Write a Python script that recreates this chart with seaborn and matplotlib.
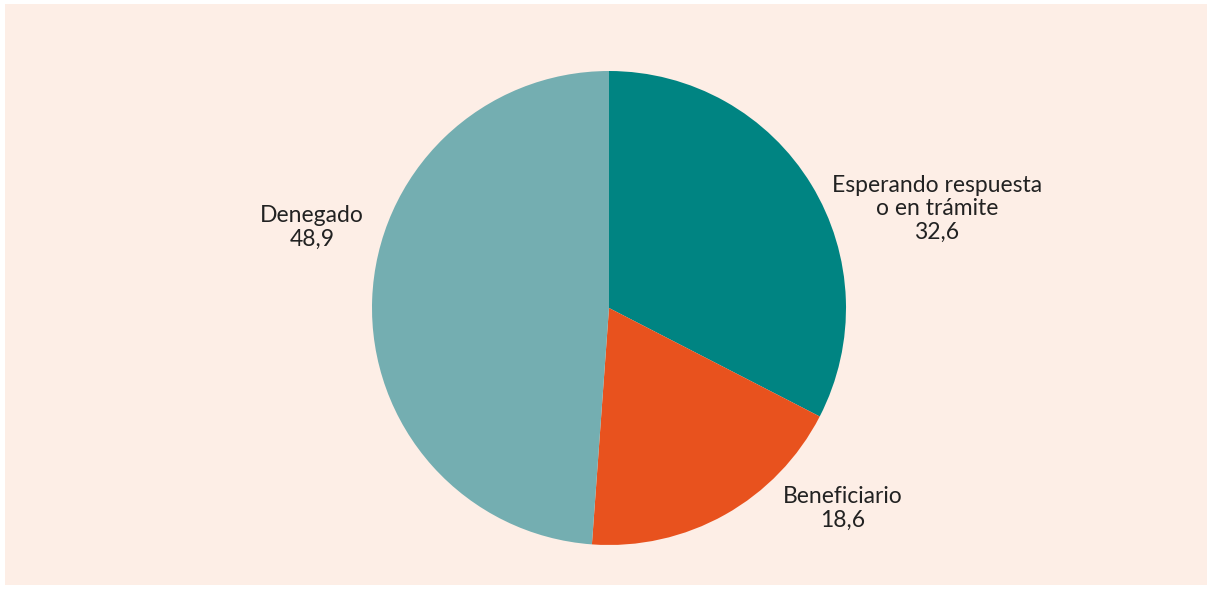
import matplotlib
matplotlib.use("Agg")
import matplotlib.pyplot as plt
import seaborn as sns
from matplotlib.patches import Rectangle

# data
categories = ["Esperando respuesta\no en trámite", "Beneficiario", "Denegado"]
values = [32.6, 18.6, 48.9]
value_labels = ["32,6", "18,6", "48,9"]
colors = ["#008482", "#E8521E", "#74AEB1"]

sns.set_theme(style="white")
plt.rcParams['font.family'] = ['Lato', 'DejaVu Sans']

fig = plt.figure(figsize=(12.11, 5.89), dpi=100)
fig.patch.set_facecolor("white")
fig.patches.append(Rectangle((5 / 1211, 4 / 589), 1202 / 1211, 581 / 589,
                             transform=fig.transFigure, facecolor="#FDEEE6",
                             edgecolor="none", zorder=-5))

ax = fig.add_axes([0, 0, 1, 1])
ax.set_facecolor("none")
ax.pie(values, colors=colors, startangle=90, counterclock=False,
       wedgeprops=dict(linewidth=0))

# label positions in units of the pie radius
label_pos = [(1.384, 0.418), (0.987, -0.844), (-1.253, 0.338)]
for cat, val, (x, y) in zip(categories, value_labels, label_pos):
    ax.text(x, y, cat + "\n" + val, ha="center", va="center",
            fontsize=16.5, fontweight="normal", color="#222222", linespacing=1.17)

ax.set_xlim(-609 / 237, (1211 - 609) / 237)
ax.set_ylim(-(589 - 308) / 237, 308 / 237)
ax.set_aspect("auto")
ax.axis("off")

fig.savefig("out.png", dpi=100)
